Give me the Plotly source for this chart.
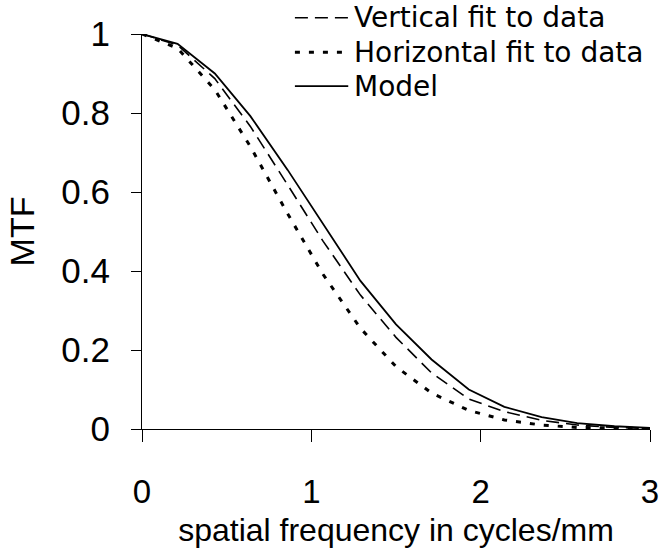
import plotly.graph_objects as go

freq = [0.0, 0.21, 0.43, 0.64, 0.86, 1.07, 1.29, 1.5, 1.71, 1.93, 2.14, 2.36, 2.57, 2.79, 3.0]
vertical_fit = [1.0, 0.972, 0.887, 0.766, 0.618, 0.475, 0.339, 0.232, 0.142, 0.076, 0.044, 0.022, 0.010, 0.004, 0.001]
horizontal_fit = [1.0, 0.964, 0.859, 0.715, 0.545, 0.391, 0.255, 0.158, 0.091, 0.047, 0.023, 0.010, 0.004, 0.002, 0.001]
model = [1.0, 0.975, 0.900, 0.792, 0.656, 0.518, 0.375, 0.265, 0.176, 0.100, 0.056, 0.030, 0.015, 0.007, 0.003]

names = ["Vertical fit to data", "Horizontal fit to data", "Model"]
x_ticks = [0, 1, 2, 3]
y_ticks = [0, 0.2, 0.4, 0.6, 0.8, 1]
y_tick_text = ["0", "0.2", "0.4", "0.6", "0.8", "1"]

FONT = "Liberation Sans, Arial, sans-serif"
LEGEND_FONT = "DejaVu Sans, Liberation Sans, sans-serif"

styles = [
    dict(color="black", width=1.6, dash="13px,7px"),
    dict(color="black", width=3, dash="5px,9px"),
    dict(color="black", width=1.8),
]
series = [vertical_fit, horizontal_fit, model]

fig = go.Figure()
for name, ys, st in zip(names, series, styles):
    fig.add_trace(go.Scatter(x=freq, y=ys, mode="lines", name=name, line=st,
                             showlegend=False))

# legend drawn as sample lines + text in paper coordinates
legend_rows_y = [1.041, 0.954, 0.868]
for name, st, ly in zip(names, styles, legend_rows_y):
    fig.add_shape(type="line", xref="paper", yref="paper",
                  x0=0.301, x1=0.406, y0=ly, y1=ly, line=st)
    fig.add_annotation(xref="paper", yref="paper", x=0.416, y=ly,
                       xanchor="left", yanchor="middle", text=name,
                       showarrow=False, borderpad=0,
                       font=dict(size=28, family=LEGEND_FONT))

fig.update_layout(
    width=660, height=548,
    margin=dict(l=142, r=10, t=34, b=119),
    paper_bgcolor="white", plot_bgcolor="white",
    font=dict(family=FONT, size=34, color="black"),
    showlegend=False,
    xaxis=dict(range=[0, 3], tickvals=x_ticks, showline=True, linecolor="black",
               linewidth=1, ticks="outside", ticklen=12, tickcolor="black",
               showgrid=False, zeroline=False, ticklabelstandoff=21,
               automargin=False, tickfont=dict(size=33),
               title=dict(text="spatial frequency in cycles/mm", standoff=14,
                          font=dict(size=32))),
    yaxis=dict(range=[0, 1], tickvals=y_ticks, ticktext=y_tick_text, showline=True,
               linecolor="black", linewidth=1, ticks="outside", ticklen=10,
               tickcolor="black", showgrid=False, zeroline=False,
               ticklabelstandoff=14, automargin=False, tickfont=dict(size=35),
               title=dict(text="MTF", standoff=16, font=dict(size=34))),
)

fig.write_html("out.html")
